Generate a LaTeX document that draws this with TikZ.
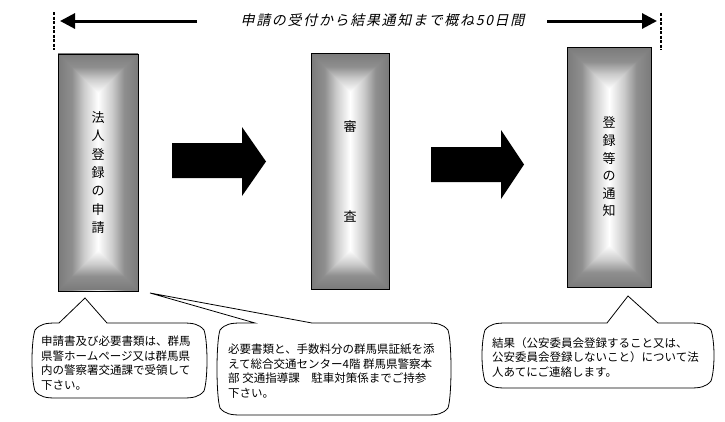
\documentclass[tikz,border=0pt]{standalone}
\usepackage{fontspec}
\usetikzlibrary{arrows.meta}
\newfontfamily\jp{Noto Sans CJK JP}
\newfontfamily\jpit[FakeSlant=0.22,LetterSpace=12]{Noto Sans CJK JP}
\pgfdeclarehorizontalshading{gboxh}{100bp}{color(0bp)=(black!52); color(25bp)=(black!52);
  color(33.75bp)=(black!44); color(41.25bp)=(black!20); color(50bp)=(white);
  color(58.75bp)=(black!20); color(66.25bp)=(black!44); color(75bp)=(black!52); color(100bp)=(black!52)}
\pgfdeclareverticalshading{gboxtop}{100bp}{color(0bp)=(white); color(25bp)=(white);
  color(42.5bp)=(black!20); color(57.5bp)=(black!44); color(75bp)=(black!52); color(100bp)=(black!52)}
\pgfdeclareverticalshading{gboxbot}{100bp}{color(0bp)=(black!52); color(25bp)=(black!52);
  color(42.5bp)=(black!44); color(57.5bp)=(black!20); color(75bp)=(white); color(100bp)=(white)}
\tikzset{
  boxnode/.style={draw=black, line width=0.8pt, inner sep=0pt, align=center,
    font=\jp\fontsize{13}{18.3}\selectfont},
  calloutline/.style={draw=black, line width=0.8pt, fill=white},
  callouttext/.style={inner sep=0pt, anchor=north west, align=left,
    font=\jp\fontsize{11.5}{14.8}\selectfont},
  toparrow/.style={line width=3pt, -{Triangle[length=15pt,width=15pt]}},
  dotline/.style={line width=2.6pt, dash pattern=on 3pt off 1.5pt},
  blockarrow/.style={fill=black},
  titletext/.style={inner sep=0pt, font=\jpit\fontsize{14}{16}\selectfont}
}
\newcommand{\gbox}[4]{%
  \pgfmathsetmacro{\gcx}{(#1+#3)/2}%
  \pgfmathsetmacro{\ghw}{(#3-#1)/2}%
  \shade[shading=gboxh] (#1,#2) rectangle (#3,#4);
  \shade[shading=gboxtop] (#1,#2) -- (#3,#2) -- (\gcx,#2+\ghw) -- cycle;
  \shade[shading=gboxbot] (#1,#4) -- (#3,#4) -- (\gcx,#4-\ghw) -- cycle;
}
\newcommand{\callshape}[8]{%
  \draw[calloutline] (#1+4,#2+7) .. controls (#1+9,#2+1) and (#1+15,#2) .. (#1+25,#2)
    -- (#5,#2) -- (#6,#7) -- (#8,#2) -- (#3-25,#2)
    .. controls (#3-15,#2) and (#3-9,#2+1) .. (#3-4,#2+7)
    .. controls (#3,#2+19) and (#3,#4-19) .. (#3-4,#4-7)
    .. controls (#3-9,#4-1) and (#3-15,#4) .. (#3-25,#4)
    -- (#1+25,#4)
    .. controls (#1+15,#4) and (#1+9,#4-1) .. (#1+4,#4-7)
    .. controls (#1,#4-19) and (#1,#2+19) .. (#1+4,#2+7) -- cycle;
}
\begin{document}
\begin{tikzpicture}[x=1pt,y=-1pt]
\useasboundingbox (0,0) rectangle (725,421);
\fill[white] (0,0) rectangle (725,421);

% top timeline
\node[titletext] (title) at (382.5,20) {申請の受付から結果通知まで概ね50日間};
\coordinate (la) at (197,21);
\coordinate (lt) at (60,21);
\coordinate (ra) at (547,21);
\coordinate (rt) at (657,21);
\draw[toparrow] (la) -- (lt);
\draw[toparrow] (ra) -- (rt);
\coordinate (d1a) at (54,12);
\coordinate (d1b) at (54,50);
\coordinate (d2a) at (661,13);
\coordinate (d2b) at (661,50);
\draw[dotline] (d1a) -- (d1b);
\draw[dotline] (d2a) -- (d2b);

% shaded boxes
\gbox{58}{53}{138}{290}
\gbox{311}{53}{389}{289}
\gbox{567}{47}{651}{287}
\node[boxnode, minimum width=80pt, minimum height=237pt] (b1) at (98,172.5)
  {法\\人\\登\\録\\の\\申\\請};
\node[boxnode, minimum width=78pt, minimum height=236pt,
  font=\jp\fontsize{13}{90}\selectfont] (b2) at (350,171) {審\\査};
\node[boxnode, minimum width=84pt, minimum height=240pt,
  font=\jp\fontsize{13}{17.6}\selectfont] (b3) at (609,167)
  {登\\録\\等\\の\\通\\知};

% block arrows
\fill[blockarrow] (172,143) -- (242,143) -- (242,127) -- (266,161.5) -- (242,196)
  -- (242,178) -- (172,178) -- cycle;
\fill[blockarrow] (431,147) -- (501,147) -- (501,130) -- (524,164.5) -- (501,199)
  -- (501,182) -- (431,182) -- cycle;

% callouts
\callshape{31}{323}{208}{398}{59}{85}{298}{107}
\callshape{216}{323}{452}{415}{255}{150}{293}{312}
\callshape{481}{323}{715}{388}{607}{628}{296}{658}

\node[callouttext] (c1) at (41,335.5)
  {申請書及び必要書類は、群馬\\県警ホームページ又は群馬県\\内の警察署交通課で受領して\\下さい。};
\node[callouttext] (c2) at (228,343.5)
  {必要書類と、手数料分の群馬県証紙を添\\えて総合交通センター4階 群馬県警察本\\部 交通指導課　駐車対策係までご持参\\下さい。};
\node[callouttext] (c3) at (492,337)
  {結果（公安委員会登録すること又は、\\公安委員会登録しないこと）について法\\人あてにご連絡します。};
\end{tikzpicture}
\end{document}
